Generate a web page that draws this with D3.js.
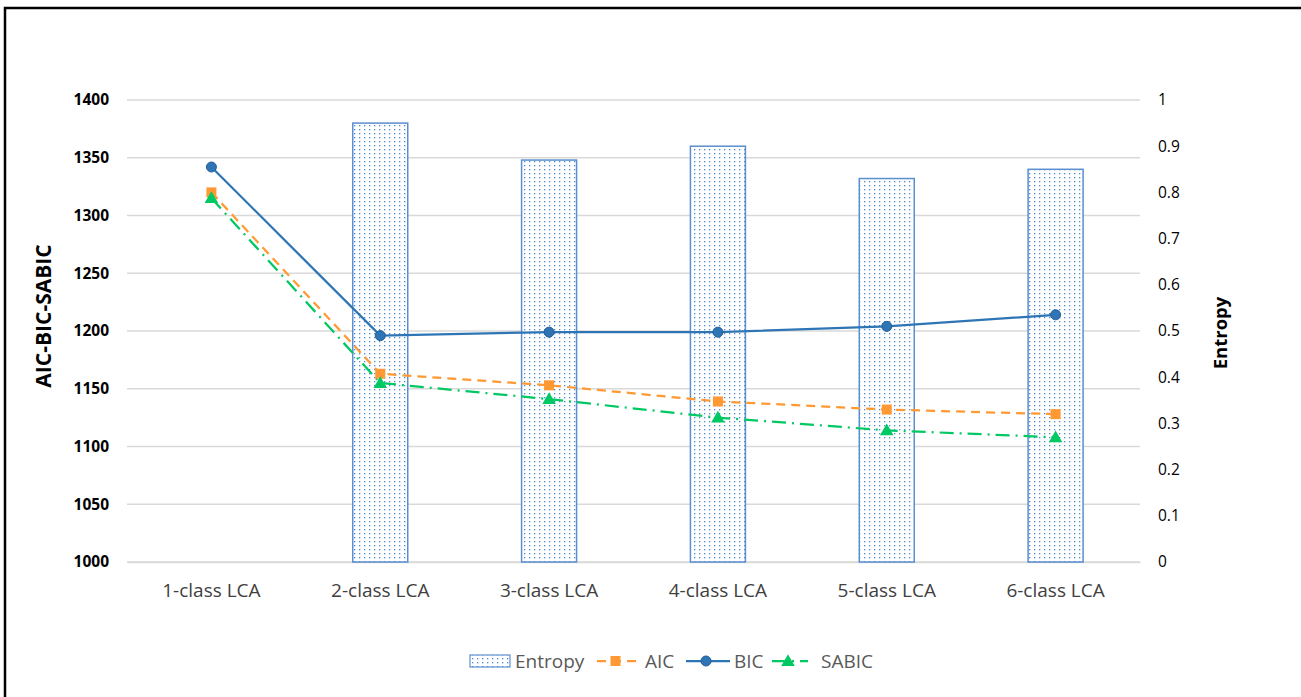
<!DOCTYPE html>
<html>
<head>
<meta charset="utf-8">
<script src="https://cdn.jsdelivr.net/npm/d3@7"></script>
<style>
  body { margin: 0; background: #fff; }
  svg { display: block; font-family: "Open Sans", sans-serif; }
</style>
</head>
<body>
<script>
const categories = ["1-class LCA", "2-class LCA", "3-class LCA", "4-class LCA", "5-class LCA", "6-class LCA"];
const entropy = [null, 0.95, 0.87, 0.90, 0.83, 0.85];
const aic = [1320, 1163, 1153, 1139, 1132, 1128];
const bic = [1342, 1196, 1199, 1199, 1204, 1214];
const sabic = [1315, 1155, 1141, 1125, 1114, 1108];
const leftTicks = [1000, 1050, 1100, 1150, 1200, 1250, 1300, 1350, 1400];
const rightTicks = [0, 0.1, 0.2, 0.3, 0.4, 0.5, 0.6, 0.7, 0.8, 0.9, 1];

const W = 1301, H = 697;
const margin = { top: 100, right: 161, bottom: 135, left: 127 };
const width = W - margin.left - margin.right,
      height = H - margin.top - margin.bottom;

const svg = d3.select("body").append("svg")
    .attr("width", W)
    .attr("height", H);

// frame (only top and left edges are visible in the crop)
svg.append("rect")
    .attr("x", 5).attr("y", 8)
    .attr("width", W + 20).attr("height", H + 20)
    .attr("fill", "none").attr("stroke", "#000").attr("stroke-width", 2.5);

const defs = svg.append("defs");
const pat = defs.append("pattern")
    .attr("id", "dots")
    .attr("patternUnits", "userSpaceOnUse")
    .attr("width", 5).attr("height", 4);
pat.append("rect").attr("width", 5).attr("height", 4).attr("fill", "#fff");
pat.append("rect").attr("x", 2).attr("y", 1).attr("width", 1.3).attr("height", 1.3).attr("fill", "#4a8ad0");

const g = svg.append("g")
    .attr("transform", `translate(${margin.left},${margin.top})`);

const x = d3.scaleBand()
    .domain(categories)
    .range([0, width]);

const y = d3.scaleLinear()
    .domain([1000, 1400])
    .range([height, 0]);

const y2 = d3.scaleLinear()
    .domain([0, 1])
    .range([height, 0]);

// gridlines
g.append("g")
    .selectAll("line")
    .data(leftTicks)
    .enter().append("line")
    .attr("x1", 0).attr("x2", width)
    .attr("y1", d => y(d)).attr("y2", d => y(d))
    .attr("stroke", "#d9d9d9").attr("stroke-width", 1.3);

// left axis
const yAxis = g.append("g")
    .call(d3.axisLeft(y).tickValues(leftTicks).tickSize(0).tickPadding(18).tickFormat(d3.format("d")));
yAxis.select(".domain").remove();
yAxis.selectAll("text")
    .attr("font-family", "'Open Sans', sans-serif")
    .attr("font-size", 15.5).attr("font-weight", "bold").attr("fill", "#000");

// right axis
const y2Axis = g.append("g")
    .attr("transform", `translate(${width},0)`)
    .call(d3.axisRight(y2).tickValues(rightTicks).tickSize(0).tickPadding(18)
        .tickFormat(d => String(+d.toFixed(1))));
y2Axis.select(".domain").remove();
y2Axis.selectAll("text")
    .attr("font-family", "'Open Sans', sans-serif")
    .attr("font-size", 15.5).attr("fill", "#000");

// x axis
const xAxis = g.append("g")
    .attr("transform", `translate(0,${height})`)
    .call(d3.axisBottom(x).tickSize(0).tickPadding(22));
xAxis.select(".domain").attr("stroke", "#d9d9d9").attr("stroke-width", 1.3);
xAxis.selectAll("text")
    .attr("font-family", "'Open Sans', sans-serif")
    .attr("font-size", 19).attr("fill", "#404040");

// bars
const barW = 55;
g.selectAll("rect.bar")
    .data(categories.map((c, i) => ({ c, v: entropy[i] })).filter(d => d.v != null))
    .enter().append("rect")
    .attr("class", "bar")
    .attr("x", d => x(d.c) + x.bandwidth() / 2 - barW / 2)
    .attr("y", d => y2(d.v))
    .attr("width", barW)
    .attr("height", d => height - y2(d.v))
    .attr("fill", "url(#dots)")
    .attr("stroke", "#5b8fcf").attr("stroke-width", 1.5);

const cx = i => x(categories[i]) + x.bandwidth() / 2;

const series = [
    { name: "AIC", values: aic, color: "#ff9933", dash: "9,6", marker: "square" },
    { name: "BIC", values: bic, color: "#2e75b6", dash: null, marker: "circle" },
    { name: "SABIC", values: sabic, color: "#00c862", dash: "14,6,2,6", marker: "triangle" }
];

const line = d3.line().x((d, i) => cx(i)).y(d => y(d));

function drawMarker(sel, s, px, py) {
    if (s.marker === "square") {
        sel.append("rect").attr("x", px - 5).attr("y", py - 5)
            .attr("width", 10).attr("height", 10).attr("fill", s.color);
    } else if (s.marker === "circle") {
        sel.append("circle").attr("cx", px).attr("cy", py).attr("r", 5)
            .attr("fill", s.color).attr("stroke", "#225e96").attr("stroke-width", 1);
    } else {
        sel.append("path")
            .attr("d", d3.symbol().type(d3.symbolTriangle).size(80)())
            .attr("transform", `translate(${px},${py + 1})`)
            .attr("fill", s.color);
    }
}

series.forEach(s => {
    g.append("path")
        .datum(s.values)
        .attr("d", line)
        .attr("fill", "none")
        .attr("stroke", s.color)
        .attr("stroke-width", 2.25)
        .attr("stroke-dasharray", s.dash);
});
series.forEach(s => {
    const mg = g.append("g");
    s.values.forEach((v, i) => drawMarker(mg, s, cx(i), y(v)));
});

// axis titles
svg.append("text")
    .attr("transform", "translate(51,316) rotate(-90)")
    .attr("text-anchor", "middle")
    .attr("font-size", 21).attr("font-weight", "bold")
    .text("AIC-BIC-SABIC");

svg.append("text")
    .attr("transform", "translate(1227,333) rotate(-90)")
    .attr("text-anchor", "middle")
    .attr("font-size", 18.5).attr("font-weight", "bold")
    .text("Entropy");

// legend
const lg = svg.append("g").attr("transform", "translate(0,661)");
lg.append("rect").attr("x", 470).attr("y", -6).attr("width", 40).attr("height", 12)
    .attr("fill", "url(#dots)").attr("stroke", "#5b8fcf").attr("stroke-width", 1.2);
lg.append("text").attr("x", 515).attr("y", 6.5).attr("font-size", 19).attr("fill", "#595959").text("Entropy");

const legendItems = [
    { s: series[0], x0: 597, x1: 638, tx: 645 },
    { s: series[1], x0: 686, x1: 730, tx: 734 },
    { s: series[2], x0: 772, x1: 808, tx: 821 }
];
legendItems.forEach(it => {
    lg.append("line").attr("x1", it.x0).attr("x2", it.x1).attr("y1", 0).attr("y2", 0)
        .attr("stroke", it.s.color).attr("stroke-width", 2.25)
        .attr("stroke-dasharray", it.s.dash);
    drawMarker(lg, it.s, (it.x0 + it.x1) / 2 - 2, 0);
    lg.append("text").attr("x", it.tx).attr("y", 6.5).attr("font-size", 19)
        .attr("fill", "#595959").text(it.s.name);
});
</script>
</body>
</html>
